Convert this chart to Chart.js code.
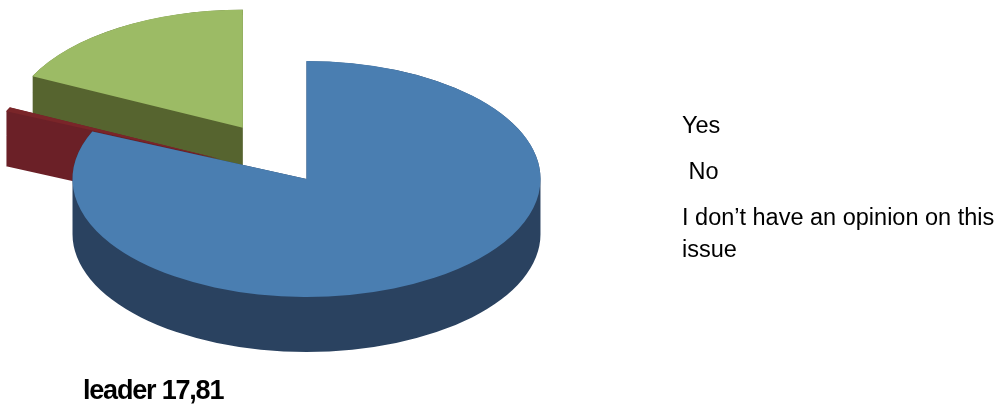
<!DOCTYPE html>
<html>
<head>
<meta charset="utf-8">
<script src="https://cdn.jsdelivr.net/npm/chart.js@4/dist/chart.umd.min.js"></script>
<style>
  html, body { margin: 0; padding: 0; background: #fff; }
  #wrap { position: relative; width: 1008px; height: 410px; overflow: hidden; }
  #pie { position: absolute; left: 0; top: 0; }
  #legend {
    position: absolute; left: 682px; top: 109px; width: 326px;
    font: 23.5px "Liberation Sans", Arial, sans-serif; color: #000;
  }
  #legend div { white-space: pre-wrap; line-height: 32px; margin-bottom: 14px; }
  #caption {
    position: absolute; left: 83px; top: 375px;
    font: bold 27px "Liberation Sans", Arial, sans-serif;
    letter-spacing: -1.2px; color: #000;
  }
</style>
</head>
<body>
<div id="wrap">
  <canvas id="pie" width="1008" height="410"></canvas>
  <div id="legend"></div>
  <div id="caption"></div>
</div>
<script>
// survey answers, percent
const labels = ['Yes', ' No', 'I don’t have an opinion on this issue'];
const shares = [81.6, 0.6, 17.8];
const caption = 'leader 17,81';

const topColors = ['#4a7eb1', '#7a2529', '#9cbb65'];
const sideColors = ['#2a4260', '#6b2027', '#56642f'];

// draws the pie as a tilted, extruded disc with exploded slices
const pie3d = {
  id: 'pie3d',
  beforeDatasetsDraw(chart, args, opts) {
    const ctx = chart.ctx;
    const arcs = chart.getDatasetMeta(0).data;
    const cx = arcs[0].x, cy = arcs[0].y;
    const depth = opts.depth / opts.tilt;

    ctx.save();
    ctx.translate(cx, cy);
    ctx.scale(1, opts.tilt);
    ctx.translate(-cx, -cy);

    const shift = arcs.map((arc, i) => {
      const mid = (arc.startAngle + arc.endAngle) / 2;
      const d = opts.explode[i] || 0;
      return [Math.cos(mid) * d, Math.sin(mid) * d];
    });
    const order = arcs.map((a, i) => i).reverse();

    // side walls first, back slices before front ones
    order.forEach(i => {
      const arc = arcs[i];
      const x = arc.x + shift[i][0], y = arc.y + shift[i][1];
      ctx.fillStyle = opts.sideColors[i];
      ctx.beginPath();
      for (let d = depth; d >= 0; d -= 1) {
        ctx.moveTo(x, y + d);
        ctx.arc(x, y + d, arc.outerRadius, arc.startAngle, arc.endAngle);
        ctx.closePath();
      }
      ctx.fill();
    });

    // top faces
    order.forEach(i => {
      ctx.save();
      ctx.translate(shift[i][0], shift[i][1]);
      arcs[i].draw(ctx);
      ctx.restore();
    });

    ctx.restore();
    return false;
  }
};

new Chart(document.getElementById('pie'), {
  type: 'pie',
  data: {
    labels: labels,
    datasets: [{
      data: shares,
      backgroundColor: topColors,
      borderWidth: 0,
      hoverOffset: 0
    }]
  },
  options: {
    responsive: false,
    animation: false,
    devicePixelRatio: 1,
    events: [],
    radius: 234,
    layout: { padding: { left: 0, right: 395, top: 0, bottom: 52 } },
    plugins: {
      legend: { display: false },
      tooltip: { enabled: false },
      pie3d: { tilt: 0.504, depth: 55, explode: [0, 95, 120], sideColors: sideColors }
    }
  },
  plugins: [pie3d]
});

const legend = document.getElementById('legend');
labels.forEach(text => {
  const item = document.createElement('div');
  item.textContent = text;
  legend.appendChild(item);
});
document.getElementById('caption').textContent = caption;
</script>
</body>
</html>
